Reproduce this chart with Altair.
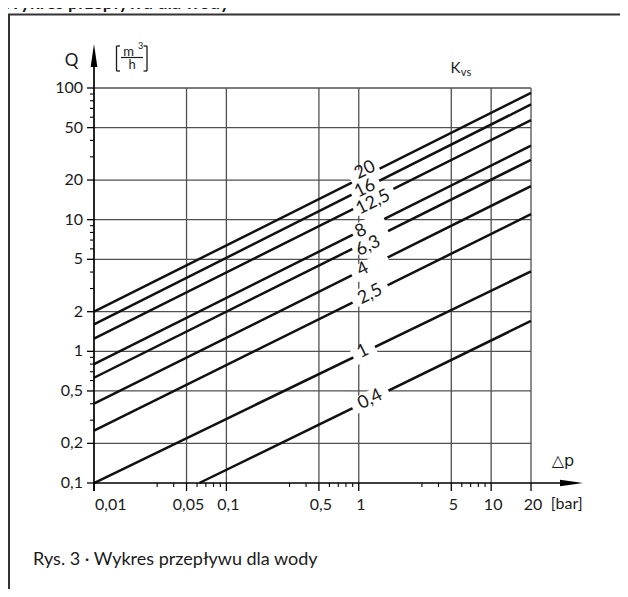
import altair as alt
import pandas as pd

# ---------------- data ----------------
kvs_label = ["20", "16", "12,5", "8", "6,3", "4", "2,5", "1", "0,4"]
dp_start = [0.01, 0.01, 0.01, 0.01, 0.01, 0.01, 0.01, 0.01, 0.0625]
q_start = [2.0, 1.6, 1.25, 0.8, 0.63, 0.4, 0.25, 0.1, 0.1]
dp_end = [20, 20, 20, 20, 20, 20, 20, 20, 20]
q_end = [92, 75, 57, 36.5, 28.5, 18, 11, 4.05, 1.7]

# curve-label anchor points (Δp, Q)
label_dp = [1.117, 1.117, 1.285, 1.038, 1.178, 1.074, 1.220, 1.074, 1.220]
label_q = [23.7, 17.2, 13.5, 8.17, 6.28, 4.18, 2.70, 1.0, 0.43]
# centres of the gaps cut into the curves around the labels
gap_dp = [1.128, 1.128, 1.294, 1.182, 1.219, 1.219, 1.202, 1.103, 1.219]
gap_q = [21.6, 17.3, 14.2, 8.87, 7.0, 4.36, 2.80, 0.975, 0.436]

x_grid = [0.05, 0.1, 0.5, 1, 5, 10, 20]
x_major = [0.01, 0.05, 0.1, 0.5, 1, 5, 10, 20]
x_minor = [0.03, 0.04, 0.06, 0.07, 0.08, 0.09, 0.3, 0.4, 0.6, 0.7, 0.8, 0.9,
           3, 4, 6, 7, 8, 9]
x_tick_vals = [0.05, 0.1, 0.5, 1, 5, 10, 20]
x_tick_text = ["0,05", "0,1", "0,5", "1", "5", "10", "20"]
x_first_val = [0.01]
x_first_text = ["0,01"]

y_grid = [0.2, 0.5, 1, 2, 5, 10, 20, 50, 100]
y_major = [0.1, 0.2, 0.5, 1, 2, 5, 10, 20, 50, 100]
y_tick_text = ["0,1", "0,2", "0,5", "1", "2", "5", "10", "20", "50", "100"]
y_minor = [0.3, 0.4, 0.6, 0.7, 0.8, 0.9, 3, 4, 6, 7, 8, 9,
           30, 40, 60, 70, 80, 90]

# ---------------- styles ----------------
W, H = 437, 395
FONT = "Lato"
TXT = "#1a1a1a"
GRID = "#505050"
ANG = 333.6
gap_px = [31, 31, 45, 35, 40, 40, 39, 24, 40]   # along-line gap length
GAP_H = 16

xs = alt.Scale(type="log", domain=[0.01, 20], nice=False)
ys = alt.Scale(type="log", domain=[0.1, 100], nice=False)


def X(f):
    return alt.X(f, type="quantitative", scale=xs, axis=None)


def Y(f):
    return alt.Y(f, type="quantitative", scale=ys, axis=None)


one = pd.DataFrame({"a": [0]})

# grid
grid_v = alt.Chart(pd.DataFrame({"v": x_grid})).mark_rule(
    color=GRID, strokeWidth=1.3).encode(x=X("v"), y=alt.value(0), y2=alt.value(H))
grid_h = alt.Chart(pd.DataFrame({"v": y_grid})).mark_rule(
    color=GRID, strokeWidth=1.3).encode(y=Y("v"), x=alt.value(0), x2=alt.value(W))

# ticks
xt_major = alt.Chart(pd.DataFrame({"v": x_major})).mark_rule(
    color="black", strokeWidth=1.3).encode(x=X("v"), y=alt.value(H), y2=alt.value(H + 8))
xt_minor = alt.Chart(pd.DataFrame({"v": x_minor})).mark_rule(
    color="black", strokeWidth=1.1).encode(x=X("v"), y=alt.value(H), y2=alt.value(H + 4))
yt_major = alt.Chart(pd.DataFrame({"v": y_major})).mark_rule(
    color="black", strokeWidth=1.3).encode(y=Y("v"), x=alt.value(-7), x2=alt.value(0))
yt_minor = alt.Chart(pd.DataFrame({"v": y_minor})).mark_rule(
    color="black", strokeWidth=1.1).encode(y=Y("v"), x=alt.value(-4), x2=alt.value(0))

# axis lines + arrows
x_axis = alt.Chart(one).mark_rule(color="black", strokeWidth=1.7).encode(
    x=alt.value(0), x2=alt.value(478), y=alt.value(H))
y_axis = alt.Chart(one).mark_rule(color="black", strokeWidth=1.7).encode(
    x=alt.value(0), y=alt.value(-34), y2=alt.value(H + 8))
arrow_y = alt.Chart(one).mark_point(
    shape="M0,-1L0.29,1L-0.29,1Z", filled=True, color="black", opacity=1,
    size=529).encode(x=alt.value(0), y=alt.value(-32.5))
arrow_x = alt.Chart(one).mark_point(
    shape="M1,0L-1,0.29L-1,-0.29Z", filled=True, color="black", opacity=1,
    size=529).encode(x=alt.value(477.5), y=alt.value(H))

# curves
rows = []
for lab, d0, q0, d1, q1 in zip(kvs_label, dp_start, q_start, dp_end, q_end):
    rows.append({"k": lab, "dp": d0, "q": q0})
    rows.append({"k": lab, "dp": d1, "q": q1})
curves = alt.Chart(pd.DataFrame(rows)).mark_line(
    color="#111111", strokeWidth=2.5).encode(x=X("dp"), y=Y("q"), detail="k:N")

# white masks that cut the gaps around the labels
S = 50.0
paths = []
for w in gap_px:
    a = w / S
    b = GAP_H / S
    paths.append(f"M{-a:.4f},{-b:.4f}L{a:.4f},{-b:.4f}L{a:.4f},{b:.4f}L{-a:.4f},{b:.4f}Z")
masks = alt.Chart(pd.DataFrame({"dp": gap_dp, "q": gap_q, "path": paths})).mark_point(
    filled=True, color="white", fill="white", opacity=1, strokeWidth=0).encode(
    x=X("dp"), y=Y("q"), shape=alt.Shape("path:N", scale=None),
    size=alt.value(S * S), angle=alt.value(ANG))

labels = alt.Chart(pd.DataFrame({"dp": label_dp, "q": label_q, "t": kvs_label})).mark_text(
    angle=ANG, font=FONT, fontSize=18, color=TXT, align="center", baseline="middle").encode(
    x=X("dp"), y=Y("q"), text="t:N")

# tick labels
x_lab = alt.Chart(pd.DataFrame({"v": x_tick_vals, "t": x_tick_text})).mark_text(
    font=FONT, fontSize=16, color=TXT, align="center", baseline="middle", dx=2).encode(
    x=X("v"), y=alt.value(H + 22), text="t:N")
x_lab0 = alt.Chart(pd.DataFrame({"v": x_first_val, "t": x_first_text})).mark_text(
    font=FONT, fontSize=16, color=TXT, align="left", baseline="middle", dx=1).encode(
    x=X("v"), y=alt.value(H + 22), text="t:N")
y_lab = alt.Chart(pd.DataFrame({"v": y_major, "t": y_tick_text})).mark_text(
    font=FONT, fontSize=16, color=TXT, align="right", baseline="middle").encode(
    x=alt.value(-11), y=Y("v"), text="t:N")


def txt(s, x, y, size=16, align="center", baseline="middle", font=FONT, weight="normal"):
    return alt.Chart(one).mark_text(
        text=s, font=font, fontSize=size, color=TXT, align=align, baseline=baseline,
        fontWeight=weight).encode(x=alt.value(x), y=alt.value(y))


def rule(x, x2, y, y2, w=1.3, c=TXT):
    return alt.Chart(one).mark_rule(color=c, strokeWidth=w).encode(
        x=alt.value(x), x2=alt.value(x2), y=alt.value(y), y2=alt.value(y2))


annot = [
    txt("Q", -22.5, -27, 17),
    txt("m", 34.5, -32, 13, baseline="alphabetic"),
    txt("3", 46.5, -39, 9, baseline="alphabetic"),
    rule(27, 49, -30.5, -30.5, 1.2),
    txt("h", 38.2, -29, 13, baseline="top"),
    rule(22.5, 22.5, -42, -17, 1.3),
    rule(22.5, 26, -42, -42, 1.3),
    rule(22.5, 26, -17, -17, 1.3),
    rule(53, 53, -42, -17, 1.3),
    rule(49.5, 53, -42, -42, 1.3),
    rule(49.5, 53, -17, -17, 1.3),
    txt("K", 361.5, -20, 15),
    txt("vs", 372, -15, 11),
    txt("△p", 469, 373, 16, font="DejaVu Sans"),
    txt("[bar]", 472.7, 416.3, 16),
    txt("Rys. 3  ·  Wykres przepływu dla wody", -61, 477, 18, align="left", baseline="alphabetic"),
    txt("Wykres przepływu dla wody", -92, -79, 18, align="left", baseline="alphabetic", weight="bold"),
    rule(-86, 700, -73.5, -73.5, 2, "#333333"),
    rule(-85, -85, -73.5, 700, 2, "#333333"),
]

chart = alt.layer(
    grid_v, grid_h, curves, masks, labels,
    xt_major, xt_minor, yt_major, yt_minor,
    x_axis, y_axis, arrow_y, arrow_x,
    x_lab, x_lab0, y_lab, *annot
).properties(
    width=W, height=H,
    autosize=alt.AutoSizeParams(type="none"),
    padding={"left": 86, "top": 80, "right": 89, "bottom": 106},
).configure_view(stroke=None)

chart.save("out.html", embed_options={"renderer": "svg", "actions": False})
